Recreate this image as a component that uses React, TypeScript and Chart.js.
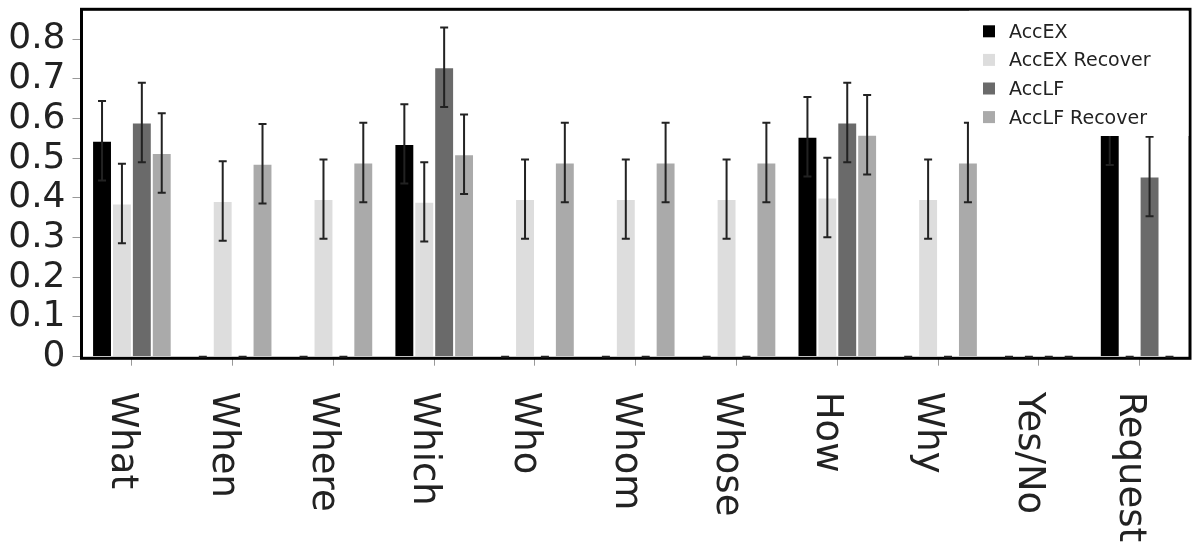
import React, { useEffect, useRef } from "react";
import { Chart, registerables } from "chart.js";

Chart.register(...registerables);

const categories = ["What", "When", "Where", "Which", "Who", "Whom", "Whose", "How", "Why", "Yes/No", "Request"];
const seriesNames = ["AccEX", "AccEX Recover", "AccLF", "AccLF Recover"];

const accEX = [0.544, 0, 0, 0.536, 0, 0, 0, 0.554, 0, 0, 0.583];
const accEXRecover = [0.386, 0.392, 0.397, 0.39, 0.397, 0.397, 0.397, 0.401, 0.397, 0, 0];
const accLF = [0.59, 0, 0, 0.729, 0, 0, 0, 0.59, 0, 0, 0.454];
const accLFRecover = [0.513, 0.486, 0.489, 0.51, 0.489, 0.489, 0.489, 0.559, 0.489, 0, 0];

const accEXErr = [0.1, 0, 0, 0.1, 0, 0, 0, 0.1, 0, 0, 0.1];
const accEXRecoverErr = [0.1, 0.1, 0.1, 0.1, 0.1, 0.1, 0.1, 0.1, 0.1, 0, 0];
const accLFErr = [0.1, 0, 0, 0.1, 0, 0, 0, 0.1, 0, 0, 0.1];
const accLFRecoverErr = [0.1, 0.1, 0.1, 0.1, 0.1, 0.1, 0.1, 0.1, 0.1, 0, 0];

const yTicks = [0, 0.1, 0.2, 0.3, 0.4, 0.5, 0.6, 0.7, 0.8];

const seriesValues = [accEX, accEXRecover, accLF, accLFRecover];
const seriesErrors = [accEXErr, accEXRecoverErr, accLFErr, accLFRecoverErr];
const seriesColors = ["#000000", "#dddddd", "#6a6a6a", "#aaaaaa"];

const FONT = "'DejaVu Sans', Verdana, sans-serif";
const TEXT = "#222222";

const errorBarPlugin = {
  id: "errorBars",
  afterDatasetsDraw(chart: any) {
    const ctx = chart.ctx;
    const y = chart.scales.y;
    ctx.save();
    const a = chart.chartArea;
    ctx.strokeStyle = "#000";
    ctx.lineWidth = 3;
    ctx.strokeRect(a.left, a.top, a.right - a.left, a.bottom + 1.6 - a.top);
    ctx.strokeStyle = "#222";
    ctx.lineWidth = 2;
    seriesValues.forEach((vals, d) => {
      const meta = chart.getDatasetMeta(d);
      vals.forEach((v, i) => {
        const bar = meta.data[i];
        if (!bar) return;
        const x = bar.x;
        const e = seriesErrors[d][i];
        const yt = y.getPixelForValue(v + e);
        const yb = y.getPixelForValue(v - e);
        const hw = 4;
        ctx.beginPath();
        ctx.moveTo(x, yt);
        ctx.lineTo(x, yb);
        ctx.moveTo(x - hw, yt);
        ctx.lineTo(x + hw, yt);
        ctx.moveTo(x - hw, yb);
        ctx.lineTo(x + hw, yb);
        ctx.stroke();
      });
    });
    ctx.restore();
  },
  afterDraw(chart: any) {
    const ctx = chart.ctx;
    const a = chart.chartArea;
    const xs = chart.scales.x;
    ctx.save();
    const lx = a.right - 221;
    ctx.fillStyle = "#ffffff";
    ctx.fillRect(lx, a.top + 1.5, a.right - 1.5 - lx, 136 - a.top - 1.5);
    ctx.font = `19px ${FONT}`;
    ctx.textAlign = "left";
    ctx.textBaseline = "alphabetic";
    seriesNames.forEach((name, k) => {
      const rowY = a.top + 16 + k * 28.6;
      ctx.fillStyle = seriesColors[k];
      ctx.fillRect(lx + 14, rowY, 12, 12);
      ctx.fillStyle = TEXT;
      ctx.fillText(name, lx + 40, rowY + 12.4);
    });
    ctx.font = `37px ${FONT}`;
    ctx.fillStyle = TEXT;
    categories.forEach((c, i) => {
      const px = xs.getPixelForValue(i);
      ctx.save();
      ctx.translate(px - 20, a.bottom + 35);
      ctx.rotate(Math.PI / 2);
      ctx.fillText(c, 0, 0);
      ctx.restore();
    });
    ctx.restore();
  },
};

export default function App() {
  const ref = useRef<HTMLCanvasElement | null>(null);
  useEffect(() => {
    if (!ref.current) return;
    const chart = new Chart(ref.current, {
      type: "bar",
      data: {
        labels: categories,
        datasets: seriesNames.map((n, d) => ({
          label: n,
          data: seriesValues[d],
          backgroundColor: seriesColors[d],
          borderColor: "rgba(255,255,255,0.35)",
          borderWidth: 1,
          categoryPercentage: 0.79,
          barPercentage: 1.0,
        })),
      },
      options: {
        animation: false,
        responsive: true,
        maintainAspectRatio: false,
        devicePixelRatio: 1,
        layout: { padding: { top: 9.3, right: 10, left: 0, bottom: 0 } },
        plugins: { legend: { display: false }, tooltip: { enabled: false } },
        scales: {
          x: {
            afterFit: (s: any) => {
              s.height = 193.3;
              s.paddingLeft = 0;
              s.paddingRight = 0;
            },
            grid: { drawOnChartArea: false, offset: false, tickLength: 9, color: "#999", lineWidth: 1 },
            border: { display: false },
            ticks: { display: false },
          },
          y: {
            min: 0,
            max: 0.875,
            afterFit: (s: any) => {
              s.width = 81.5;
              s.paddingTop = 0;
              s.paddingBottom = 0;
            },
            afterBuildTicks: (s: any) => {
              s.ticks = yTicks.map((v) => ({ value: v }));
            },
            grid: { drawOnChartArea: false, tickLength: 9, color: "#999", lineWidth: 1 },
            border: { display: false },
            ticks: {
              autoSkip: false,
              padding: 7,
              color: TEXT,
              font: { family: FONT, size: 36 },
              callback: (v: any) => Number(v).toFixed(1).replace(/\.0$/, ""),
            },
          },
        },
      },
      plugins: [errorBarPlugin],
    });
    return () => chart.destroy();
  }, []);
  return (
    <div style={{ position: "fixed", left: 0, top: 0, width: 1200, height: 550, background: "#fff" }}>
      <canvas ref={ref} />
    </div>
  );
}
